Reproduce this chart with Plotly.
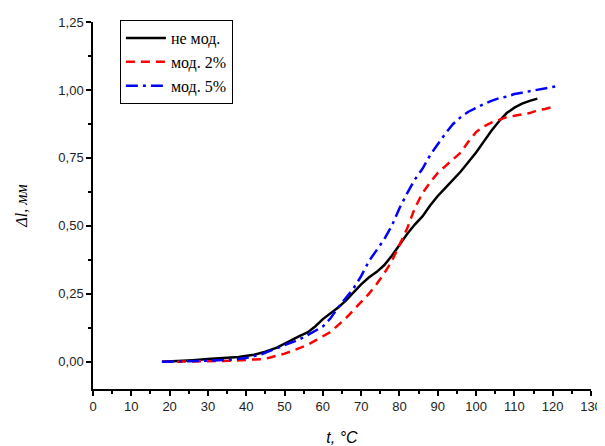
import plotly.graph_objects as go

# не мод.
t_black = [18, 22, 26, 30, 34, 38, 42, 45, 48, 51, 54, 56, 58, 60, 62, 64, 66, 68, 70, 72, 74, 76, 78, 80,
           82, 84, 86, 88, 90, 92, 94, 96, 98, 100, 102, 104, 106, 107, 108, 110, 112, 114, 116]
v_black = [0, 0.002, 0.006, 0.01, 0.014, 0.018, 0.026, 0.037, 0.052, 0.075, 0.095, 0.108, 0.13, 0.157,
           0.178, 0.2, 0.225, 0.255, 0.285, 0.31, 0.33, 0.355, 0.39, 0.43, 0.47, 0.505, 0.535, 0.575,
           0.61, 0.64, 0.67, 0.70, 0.735, 0.77, 0.81, 0.85, 0.885, 0.9, 0.915, 0.935, 0.95, 0.96, 0.968]

# мод. 2%
t_red = [18, 24, 30, 36, 40, 44, 46, 48, 50, 52, 54, 56, 58, 60, 62, 64, 66, 68, 70, 72, 74, 76, 78, 79,
         80, 81, 82, 84, 86, 88, 90, 92, 94, 96, 98, 100, 102, 104, 106, 108, 110, 112, 114, 116, 118, 120.6]
v_red = [0, 0, 0.002, 0.004, 0.006, 0.01, 0.015, 0.022, 0.03, 0.04, 0.05, 0.062, 0.078, 0.095, 0.11,
         0.135, 0.16, 0.19, 0.22, 0.25, 0.285, 0.325, 0.37, 0.40, 0.43, 0.456, 0.49, 0.565, 0.62, 0.66,
         0.695, 0.72, 0.745, 0.77, 0.81, 0.845, 0.866, 0.88, 0.89, 0.90, 0.905, 0.91, 0.915, 0.925, 0.93, 0.94]

# мод. 5%
t_blue = [18, 24, 30, 36, 40, 44, 48, 52, 54, 56, 58, 60, 62, 64, 66, 68, 70, 72, 74, 76, 78, 80, 82, 84,
          86, 88, 90, 92, 94, 96, 98, 100, 102, 104, 106, 108, 110, 112, 114, 116, 118, 121.4]
v_blue = [0, 0.001, 0.004, 0.008, 0.014, 0.028, 0.05, 0.072, 0.083, 0.098, 0.113, 0.13, 0.16, 0.2, 0.235,
          0.27, 0.315, 0.37, 0.41, 0.45, 0.5, 0.565, 0.62, 0.67, 0.71, 0.76, 0.80, 0.84, 0.875, 0.9, 0.92,
          0.935, 0.948, 0.96, 0.97, 0.975, 0.985, 0.99, 0.995, 1.0, 1.005, 1.015]

x_ticks = list(range(0, 131, 10))
y_ticks = [0, 0.25, 0.5, 0.75, 1.0, 1.25]
y_tick_labels = ["0,00", "0,25", "0,50", "0,75", "1,00", "1,25"]

fig = go.Figure()
fig.add_trace(go.Scatter(x=t_black, y=v_black, mode="lines", name="не мод.",
                         line=dict(color="black", width=2.5)))
fig.add_trace(go.Scatter(x=t_red, y=v_red, mode="lines", name="мод. 2%",
                         line=dict(color="#ff0000", width=2.5, dash="9px,6px")))
fig.add_trace(go.Scatter(x=t_blue, y=v_blue, mode="lines", name="мод. 5%",
                         line=dict(color="#0000ff", width=2.5, dash="12px,5px,3px,5px")))

axis_font = dict(family="Liberation Sans, Arial, sans-serif", size=13, color="#222")

# page body has an 8px default margin, so the figure is sized/offset to compensate
fig.update_layout(
    width=597, height=438,
    margin=dict(l=85, r=14, t=12, b=57),
    paper_bgcolor="white", plot_bgcolor="white",
    showlegend=True,
    legend=dict(x=0.054, y=1.005, xanchor="left", yanchor="top",
                bordercolor="black", borderwidth=1, bgcolor="white", itemwidth=40,
                font=dict(family="Liberation Serif, Times New Roman, serif", size=16, color="black"),
                tracegroupgap=0),
    xaxis=dict(range=[0, 130], tickvals=x_ticks, ticks="outside", ticklen=5, tickwidth=1.5,
               tickcolor="black", showline=True, linecolor="black", linewidth=1.5,
               showgrid=False, zeroline=False, tickfont=axis_font, automargin=False,
               minor=dict(dtick=5, ticks="outside", ticklen=3, tickwidth=1.5, tickcolor="black"),
               title=dict(text="<i>t, °C</i>", font=dict(family="Liberation Sans, Arial, sans-serif",
                                                          size=16, color="black"), standoff=20)),
    yaxis=dict(range=[-0.1, 1.25], tickvals=y_ticks, ticktext=y_tick_labels, ticks="outside",
               ticklen=5, tickwidth=1.5, tickcolor="black", showline=True, linecolor="black",
               linewidth=1.5, showgrid=False, zeroline=False, tickfont=axis_font, automargin=False,
               minor=dict(dtick=0.125, tick0=0, ticks="outside", ticklen=3, tickwidth=1.5, tickcolor="black"),
               title=dict(text="<i>Δl, мм</i>", font=dict(family="Liberation Serif, Times New Roman, serif",
                                                          size=16, color="black"), standoff=27)),
)

fig.write_html("out.html")
